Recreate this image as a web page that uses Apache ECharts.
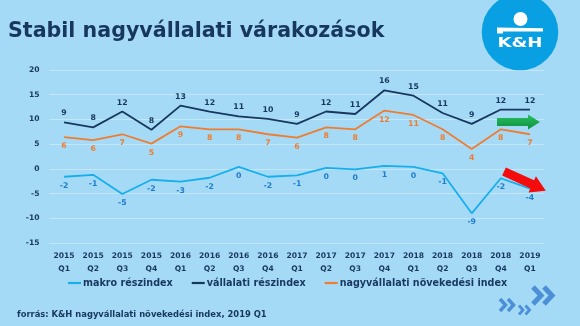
<!DOCTYPE html>
<html>
<head>
<meta charset="utf-8">
<script src="https://cdn.jsdelivr.net/npm/echarts@6/dist/echarts.min.js"></script>
<style>
  html, body { margin: 0; padding: 0; background: #a5daf6; }
  #chart { width: 580px; height: 326px; }
</style>
</head>
<body>
<div id="chart"></div>
<script>
// Quarterly periods
const years = ['2015','2015','2015','2015','2016','2016','2016','2016','2017','2017','2017','2017','2018','2018','2018','2018','2019'];
const quarters = ['Q1','Q2','Q3','Q4','Q1','Q2','Q3','Q4','Q1','Q2','Q3','Q4','Q1','Q2','Q3','Q4','Q1'];

// Index values per quarter
const makro = [-1.6, -1.2, -5.1, -2.2, -2.6, -1.8, 0.4, -1.6, -1.3, 0.2, -0.1, 0.6, 0.4, -0.9, -9.0, -1.9, -4.0];
const vallalati = [9.4, 8.4, 11.6, 7.9, 12.8, 11.6, 10.6, 10.1, 9.1, 11.6, 11.1, 15.9, 14.8, 11.3, 9.1, 12.0, 12.0];
const nagyvallalati = [6.4, 5.8, 7.0, 5.1, 8.6, 8.0, 8.0, 7.0, 6.3, 8.4, 8.0, 11.8, 10.9, 8.0, 4.0, 8.0, 7.0];

const seriesNames = ['makro részindex', 'vállalati részindex', 'nagyvállalati növekedési index'];

const FONT = 'DejaVu Sans';
const NAVY = '#17375e';

const categories = years.map((y, i) => y + '\n' + quarters[i]);

function lineSeries(name, data, color, labelColor, pos) {
  return {
    name: name,
    type: 'line',
    data: data,
    symbol: 'circle',
    symbolSize: 0,
    showSymbol: true,
    lineStyle: { color: color, width: 1.8 },
    itemStyle: { color: color },
    label: {
      show: true,
      position: pos,
      distance: 5,
      color: labelColor,
      fontFamily: FONT,
      fontWeight: 'bold',
      fontSize: 7.8,
      formatter: p => String(Math.round(p.value))
    },
    labelLayout: { hideOverlap: false },
    z: 3
  };
}

const chart = echarts.init(document.getElementById('chart'), null, { renderer: 'canvas' });

chart.setOption({
  backgroundColor: '#a5daf6',
  animation: false,
  title: {
    text: 'Stabil nagyvállalati várakozások',
    left: 3,
    top: 16,
    textStyle: { color: NAVY, fontFamily: FONT, fontWeight: 'bold', fontSize: 20.6 }
  },
  grid: { left: 49.5, right: 35.5, top: 70, bottom: 83 },
  legend: {
    data: seriesNames.map(n => ({ name: n, icon: 'rect' })),
    left: 63,
    top: 273,
    itemWidth: 13,
    itemHeight: 2.2,
    itemGap: 19,
    textStyle: { color: NAVY, fontFamily: FONT, fontWeight: 'bold', fontSize: 9.6, padding: [0, 0, 0, -3] }
  },
  xAxis: {
    type: 'category',
    data: categories,
    axisLine: { show: false },
    axisTick: { show: false },
    axisLabel: {
      color: NAVY, fontFamily: FONT, fontWeight: 'bold', fontSize: 7.6,
      lineHeight: 12.5, margin: 7, interval: 0
    }
  },
  yAxis: {
    type: 'value',
    min: -15, max: 20, interval: 5,
    axisLine: { show: false },
    axisTick: { show: false },
    splitLine: { lineStyle: { color: '#c3e7fa', width: 1 } },
    axisLabel: { color: NAVY, fontFamily: FONT, fontWeight: 'bold', fontSize: 7.6, margin: 10 }
  },
  series: [
    lineSeries(seriesNames[0], makro, '#17aeec', '#1f7dcc', 'bottom'),
    lineSeries(seriesNames[1], vallalati, '#17375e', '#17375e', 'top'),
    lineSeries(seriesNames[2], nagyvallalati, '#ee7d31', '#ee7d31', 'bottom')
  ],
  graphic: [
    // bank logo
    { type: 'circle', shape: { cx: 520, cy: 32, r: 38.3 }, style: { fill: '#08a0e2' }, z: 10 },
    { type: 'circle', shape: { cx: 520.5, cy: 19, r: 7 }, style: { fill: '#ffffff' }, z: 11 },
    { type: 'polygon', shape: { points: [[497, 27.5], [543, 28.3], [543, 31.5], [503, 31.5], [503, 33.5], [497, 33.5]] }, style: { fill: '#ffffff' }, z: 11 },
    { type: 'text', x: 520, y: 43.5, scaleX: 1.25, style: { text: 'K&H', fill: '#ffffff', font: 'bold 14.5px "DejaVu Sans"', align: 'center', verticalAlign: 'middle' }, z: 11 },
    // green trend arrow
    { type: 'polygon', shape: { points: [[497, 118], [528, 118], [528, 114.5], [540, 122], [528, 129.5], [528, 126], [497, 126]] },
      style: { fill: new echarts.graphic.LinearGradient(0, 0, 0, 1, [{ offset: 0, color: '#27c060' }, { offset: 1, color: '#0f8f3e' }]) }, z: 10 },
    // red trend arrow
    { type: 'polygon', x: 504, y: 171.5, rotation: -0.43,
      shape: { points: [[0, -4.5], [31, -4.5], [31, -9], [46, 0], [31, 9], [31, 4.5], [0, 4.5]] },
      style: { fill: '#f40c0c' }, z: 10 },
    // decorative chevrons
    { type: 'polyline', shape: { points: [[533, 287], [541, 295.5], [533, 304]] }, style: { stroke: '#4b8fd6', lineWidth: 5, fill: null, lineJoin: 'miter' }, z: 10 },
    { type: 'polyline', shape: { points: [[544, 287], [552, 295.5], [544, 304]] }, style: { stroke: '#4b8fd6', lineWidth: 5, fill: null, lineJoin: 'miter' }, z: 10 },
    { type: 'polyline', shape: { points: [[500, 299], [505.5, 305], [500, 311]] }, style: { stroke: '#4b8fd6', lineWidth: 3.5, fill: null, lineJoin: 'miter' }, z: 10 },
    { type: 'polyline', shape: { points: [[508, 299], [513.5, 305], [508, 311]] }, style: { stroke: '#4b8fd6', lineWidth: 3.5, fill: null, lineJoin: 'miter' }, z: 10 },
    { type: 'polyline', shape: { points: [[519, 305.5], [523, 310], [519, 314.5]] }, style: { stroke: '#4b8fd6', lineWidth: 2.8, fill: null, lineJoin: 'miter' }, z: 10 },
    { type: 'polyline', shape: { points: [[525.5, 305.5], [529.5, 310], [525.5, 314.5]] }, style: { stroke: '#4b8fd6', lineWidth: 2.8, fill: null, lineJoin: 'miter' }, z: 10 },
    // source note
    { type: 'text', x: 17, y: 315, style: { text: 'forrás: K&H nagyvállalati növekedési index, 2019 Q1', fill: NAVY, font: 'bold 8.4px "DejaVu Sans"', verticalAlign: 'middle' }, z: 10 }
  ]
});
</script>
</body>
</html>
